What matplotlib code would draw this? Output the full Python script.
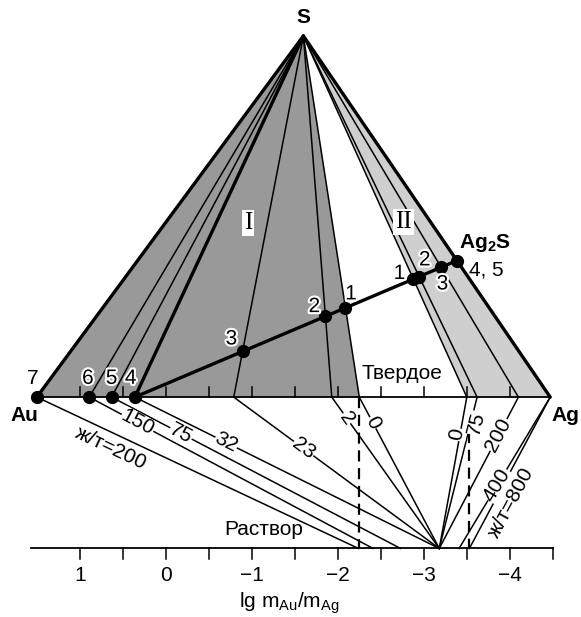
import numpy as np
import matplotlib.pyplot as plt
import matplotlib.patheffects as pe

plt.rcParams['font.family'] = ['Liberation Sans', 'DejaVu Sans']
plt.rcParams['mathtext.fontset'] = 'custom'
plt.rcParams['mathtext.rm'] = 'Liberation Sans'
plt.rcParams['mathtext.bf'] = 'Liberation Sans:bold'

# triangle vertices, x in lg m_Au/m_Ag units (same scale as the bottom axis)
AU_X, AG_X, S_X = 1.50, -4.47, -1.60
BASE_Y, S_Y = 1.76, 5.96

# S-rays (solid phase) hitting the base
rays_left = [0.89, 0.63, 0.36, -0.79, -1.93, -2.25]
rays_right = [-3.50, -3.62, -4.10]
bold_rays = [AU_X, 0.36, AG_X]

field_I = [AU_X, -2.25]      # dark field
field_II = [-3.50, AG_X]     # light field

# points on the base
base_pts = [AU_X, 0.89, 0.63, 0.36]
base_lbl = ['7', '6', '5', '4']

AG2S_FRAC = 0.378            # position of Ag2S on the Ag-S edge
tie_left = [-0.79, -1.93, -2.25]
tie_left_lbl = ['3', '2', '1']
tie_right = [-3.50, -3.62, -4.10]
tie_right_lbl = ['1', '2', '3']

# solution lines: start on base, end on lg axis
sol_start = [AU_X, 0.89, 0.63, 0.36, -0.79, -1.93, -2.25, -3.50, -3.62, -4.10, AG_X, AG_X]
sol_end = [-2.24, -2.41, -2.73, -3.18, -3.18, -3.18, -3.18, -3.18, -3.18, -3.18, -3.41, -3.53]
sol_lbl = ['ж/т=200', '150', '75', '32', '23', '2', '0', '0', '75', '200', '400', 'ж/т=800']
sol_t = [0.25, 0.17, 0.24, 0.30, 0.34, 0.14, 0.17, 0.25, 0.165, 0.25, 0.58, 0.65]
sol_off = [11, 0, 0, 0, 0, 0, 0, -2.5, 4, 0, 0, 11]

dashed_x = [-2.25, -3.53]
dashed_top = [BASE_Y, 1.35]

axis_ticks = np.arange(1.0, -4.51, -0.5)
axis_labels = [1, 0, -1, -2, -3, -4]
base_ticks = np.arange(1.0, -4.01, -0.5)

FS = 15
DARK = '#999999'
LIGHT = '#cfcfcf'

fig = plt.figure(figsize=(5.81, 6.17), dpi=100)
ax = fig.add_axes([0, 0, 1, 1])
ax.set_xlim(1.928, -4.828)
ax.set_ylim(-0.797, 6.378)
ax.axis('off')

S = np.array([S_X, S_Y])


def on_base(x):
    return np.array([x, BASE_Y])


def intersect(p1, p2, p3, p4):
    d1 = p2 - p1
    d2 = p4 - p3
    m = np.array([d1, -d2]).T
    s, _ = np.linalg.solve(m, p3 - p1)
    return p1 + s * d1


def disp_angle(p0, p1):
    d0 = ax.transData.transform(p0)
    d1 = ax.transData.transform(p1)
    a = np.degrees(np.arctan2(d1[1] - d0[1], d1[0] - d0[0]))
    if a > 90:
        a -= 180
    if a < -90:
        a += 180
    return a


# shaded fields
for fld, col in [(field_I, DARK), (field_II, LIGHT)]:
    ax.fill([fld[0], S_X, fld[1]], [BASE_Y, S_Y, BASE_Y], color=col, lw=0, zorder=1)

# rays from S
for x in rays_left + rays_right:
    ax.plot([S_X, x], [S_Y, BASE_Y], color='k', lw=1.1, zorder=2)
for x in bold_rays:
    ax.plot([S_X, x], [S_Y, BASE_Y], color='k', lw=2.4, zorder=3,
            solid_capstyle='round')

# base and its ticks
ax.plot([AU_X, AG_X], [BASE_Y, BASE_Y], color='k', lw=1.3, zorder=3)
for x in base_ticks:
    ax.plot([x, x], [BASE_Y, BASE_Y + 0.12], color='k', lw=1.1, zorder=3)

# tie line 4 - Ag2S
ag2s = on_base(AG_X) + AG2S_FRAC * (S - on_base(AG_X))
p4 = on_base(0.36)
ax.plot([p4[0], ag2s[0]], [p4[1], ag2s[1]], color='k', lw=2.4, zorder=4)

halo = [pe.withStroke(linewidth=3, foreground='white')]
dots = []
for xs, lbls, offs in [(tie_left, tie_left_lbl, [(-8, 9), (-8, 7), (4, 10)]),
                       (tie_right, tie_right_lbl, [(-10, 4), (4, 12), (1, -12)])]:
    for x, lb, off in zip(xs, lbls, offs):
        p = intersect(S, on_base(x), p4, ag2s)
        dots.append(p)
        ax.annotate(lb, p, xytext=off, textcoords='offset points', ha='center',
                    va='center', fontsize=FS, path_effects=halo, zorder=6)
dots.append(ag2s)
ax.annotate(r'$\mathbf{Ag_2S}$', ag2s, xytext=(20, 13), textcoords='offset points',
            ha='center', va='center', fontsize=FS, zorder=6)
ax.annotate('4, 5', ag2s, xytext=(21, -7), textcoords='offset points',
            ha='center', va='center', fontsize=FS, zorder=6)

for x, lb, dx in zip(base_pts, base_lbl, [-3, -1, 0, -3]):
    dots.append(on_base(x))
    ax.annotate(lb, on_base(x), xytext=(dx, 13.5), textcoords='offset points',
                ha='center', va='center', fontsize=FS,
                path_effects=None if lb == '7' else halo, zorder=6)

dots = np.array(dots)
ax.plot(dots[:, 0], dots[:, 1], 'o', color='k', ms=8.5, zorder=5)

# solution lines to the lg axis
for x0, x1, lb, t, off in zip(sol_start, sol_end, sol_lbl, sol_t, sol_off):
    a = np.array([x0, BASE_Y])
    b = np.array([x1, 0.0])
    ax.plot([a[0], b[0]], [a[1], b[1]], color='k', lw=1.1, zorder=2)
    ang = disp_angle(a, b)
    pos = a + t * (b - a)
    nrm = np.radians(ang - 90)
    ax.annotate(lb, pos, xytext=(off * np.cos(nrm), off * np.sin(nrm)),
                textcoords='offset points', rotation=ang, rotation_mode='anchor',
                ha='center', va='center', fontsize=FS, zorder=4,
                bbox=dict(boxstyle='square,pad=0.02', fc='white', ec='none'))

for x, top in zip(dashed_x, dashed_top):
    ax.plot([x, x], [top, 0], color='k', lw=1.6, ls=(0, (5, 3)), zorder=3)

# lg axis
ax.plot([1.573, -4.503], [0, 0], color='k', lw=1.3, zorder=3)
for x in axis_ticks:
    ax.plot([x, x], [0, -0.12], color='k', lw=1.1, zorder=3)
for v in axis_labels:
    ax.text(v, -0.31, str(v).replace('-', '\u2212'), ha='center', va='center',
            fontsize=FS)
ax.text(-1.43, -0.64, r'lg m$_{\mathrm{Au}}$/m$_{\mathrm{Ag}}$', ha='center',
        va='center', fontsize=FS)

# vertex labels
ax.annotate('S', S, xytext=(0, 13), textcoords='offset points', ha='center',
            va='center', fontsize=FS, fontweight='bold')
ax.annotate('Au', on_base(AU_X), xytext=(-9, -13), textcoords='offset points',
            ha='center', va='center', fontsize=FS, fontweight='bold')
ax.annotate('Ag', on_base(AG_X), xytext=(11, -13), textcoords='offset points',
            ha='center', va='center', fontsize=FS, fontweight='bold')

# field labels
roman = dict(family='Liberation Serif', fontsize=18, ha='center', va='center',
             bbox=dict(boxstyle='square,pad=0.08', fc='white', ec='none'), zorder=4)
ax.text(-0.955, 3.78, 'I', **roman)
ax.text(-2.76, 3.80, 'II', **roman)

ax.text(-2.747, 2.03, 'Твердое', ha='center', va='center', fontsize=FS)
ax.text(-1.14, 0.215, 'Раствор', ha='center', va='center', fontsize=FS)

fig.savefig('out.png', dpi=100)
